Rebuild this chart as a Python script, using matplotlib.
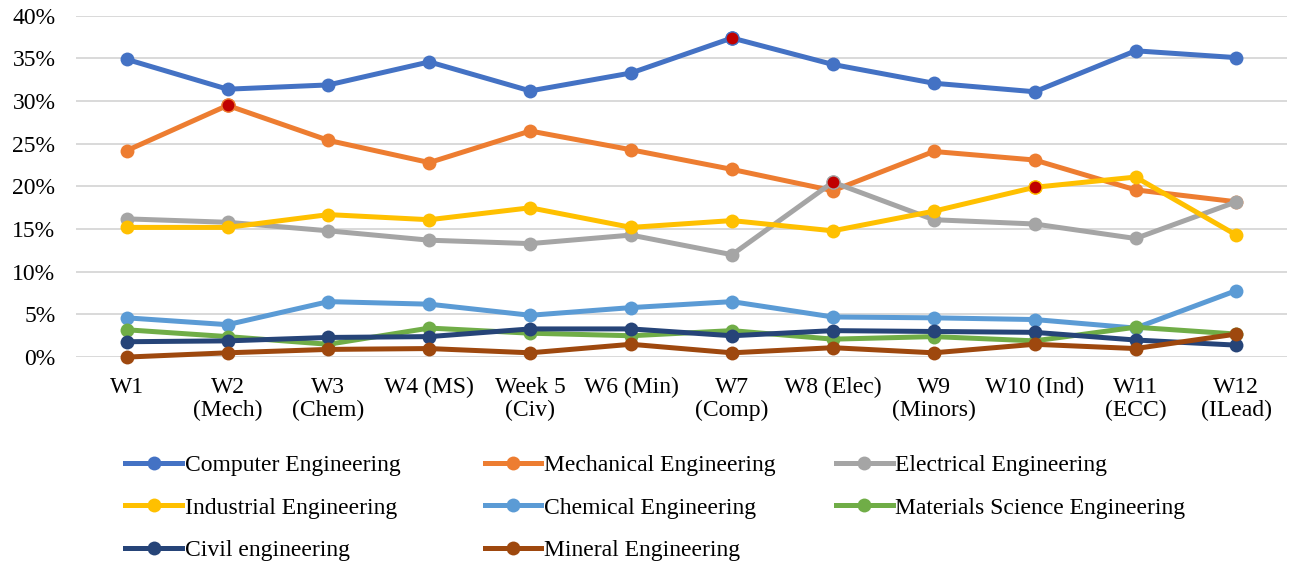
import matplotlib
matplotlib.use('Agg')
import matplotlib.pyplot as plt
from matplotlib.ticker import PercentFormatter

plt.rcParams['font.family'] = ['Liberation Serif', 'DejaVu Serif']

weeks = ["W1", "W2\n(Mech)", "W3\n(Chem)", "W4 (MS)", "Week 5\n(Civ)", "W6 (Min)",
         "W7\n(Comp)", "W8 (Elec)", "W9\n(Minors)", "W10 (Ind)", "W11\n(ECC)", "W12\n(ILead)"]

computer = [34.9, 31.4, 31.9, 34.6, 31.2, 33.3, 37.4, 34.3, 32.1, 31.1, 35.9, 35.1]
mechanical = [24.2, 29.5, 25.4, 22.8, 26.5, 24.3, 22.0, 19.5, 24.1, 23.1, 19.6, 18.2]
electrical = [16.2, 15.8, 14.8, 13.7, 13.3, 14.3, 12.0, 20.5, 16.1, 15.6, 13.9, 18.2]
industrial = [15.2, 15.2, 16.7, 16.1, 17.5, 15.2, 16.0, 14.8, 17.1, 19.9, 21.1, 14.3]
chemical = [4.6, 3.8, 6.5, 6.2, 4.9, 5.8, 6.5, 4.7, 4.6, 4.4, 3.4, 7.8]
materials = [3.2, 2.4, 1.5, 3.4, 2.8, 2.5, 3.1, 2.1, 2.4, 1.9, 3.5, 2.7]
civil = [1.8, 1.9, 2.3, 2.4, 3.3, 3.3, 2.5, 3.1, 3.0, 2.9, 2.0, 1.4]
mineral = [0.0, 0.5, 0.9, 1.0, 0.5, 1.5, 0.5, 1.1, 0.5, 1.5, 1.0, 2.7]

series = [
    ("Computer Engineering", computer, "#4472C4"),
    ("Mechanical Engineering", mechanical, "#ED7D31"),
    ("Electrical Engineering", electrical, "#A5A5A5"),
    ("Industrial Engineering", industrial, "#FFC000"),
    ("Chemical Engineering", chemical, "#5B9BD5"),
    ("Materials Science Engineering", materials, "#70AD47"),
    ("Civil engineering", civil, "#264478"),
    ("Mineral Engineering", mineral, "#9E480E"),
]

# peak weeks picked out with a red marker: (series index, week index)
highlights = [(0, 6), (1, 1), (2, 7), (3, 9)]

fig = plt.figure(figsize=(12.92, 5.65), dpi=100)
ax = fig.add_axes([0.059, 0.368, 0.937, 0.604])

x = list(range(len(weeks)))
handles = []
for name, vals, color in series:
    h, = ax.plot(x, vals, color=color, lw=3.6, marker='o', ms=10,
                 markeredgewidth=0, label=name, solid_joinstyle='round',
                 clip_on=False)
    handles.append(h)

for si, wi in highlights:
    ax.plot(x[wi], series[si][1][wi], marker='o', ms=9.5, color="#C00000",
            markeredgecolor=series[si][2], markeredgewidth=1.0, zorder=5)

ax.set_xlim(-0.5, len(weeks) - 0.5)
ax.set_ylim(0, 40)
ax.set_yticks(range(0, 41, 5))
ax.yaxis.set_major_formatter(PercentFormatter(decimals=0))
ax.set_xticks(x)
ax.set_xticklabels(weeks, va='top', linespacing=1.15)
ax.tick_params(axis='both', length=0, labelsize=17, colors='black')
ax.tick_params(axis='x', pad=14)
ax.tick_params(axis='y', pad=15)
ax.grid(axis='y', color='#D9D9D9', lw=1.4)
ax.set_axisbelow(True)
for s in ax.spines.values():
    s.set_visible(False)

# Legend laid out row by row in three equal-width columns
columns = [[0, 3, 6], [1, 4, 7], [2, 5]]
col_x = [0.097, 0.375, 0.647]
for cx, idx in zip(col_x, columns):
    fig.legend([handles[i] for i in idx], [series[i][0] for i in idx],
               loc='upper left', bbox_to_anchor=(cx, 0.196), frameon=False,
               fontsize=17, handlelength=2.4, handletextpad=0.12,
               labelspacing=0.9, borderpad=0, borderaxespad=0)

fig.savefig("out.png", dpi=100)
